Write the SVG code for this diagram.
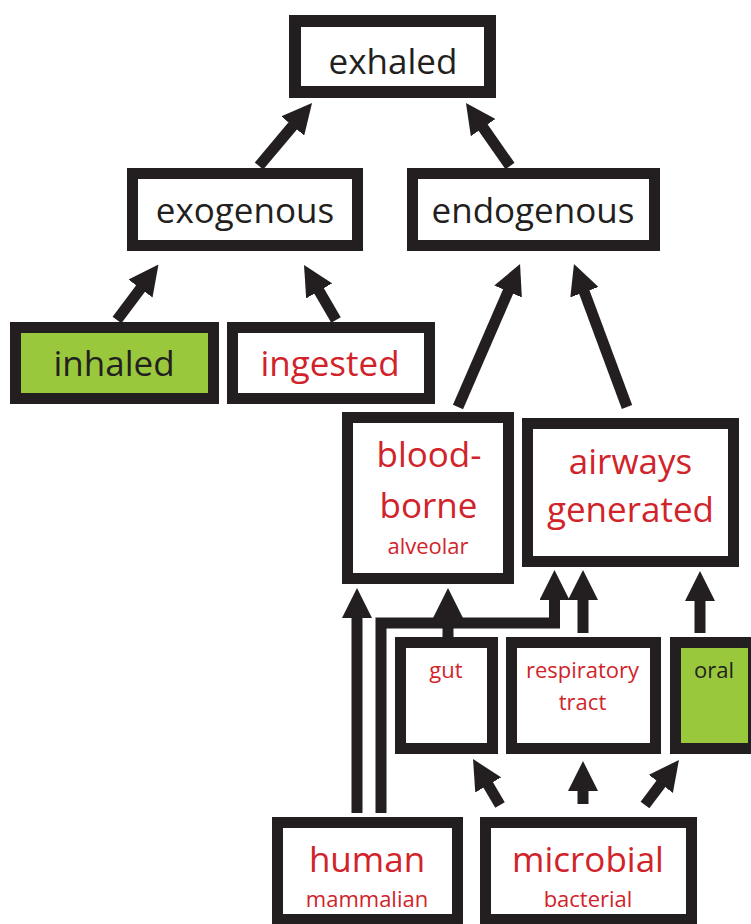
<svg xmlns="http://www.w3.org/2000/svg" width="751" height="924" viewBox="0 0 751 924">
<style>
.box{fill:#ffffff;stroke:#231f20;stroke-width:11}
.green{fill:#9ac83c}
.t{font-family:"Open Sans","Noto Sans",sans-serif;text-anchor:middle}
.big{font-size:35px}
.small{font-size:22px}
.dark{fill:#231f20}
.red{fill:#d1232a}
.c{fill:none;stroke:#231f20;stroke-width:11;stroke-linejoin:miter;marker-end:url(#ah)}
</style>
<defs>
<marker id="ah" markerUnits="userSpaceOnUse" viewBox="0 0 30 30" markerWidth="30" markerHeight="30" refX="2" refY="15" orient="auto">
<path d="M0,0 L30,15 L0,30 z" fill="#231f20"/>
</marker>
</defs>
<rect width="751" height="924" fill="#ffffff"/>
<g id="connectors">
<line class="c" x1="259" y1="166" x2="294" y2="124.4"/>
<line class="c" x1="510" y1="166" x2="482" y2="126"/>
<line class="c" x1="117" y1="320" x2="141.7" y2="287"/>
<line class="c" x1="336" y1="320" x2="318.1" y2="289.2"/>
<line class="c" x1="458" y1="407" x2="508.9" y2="289.7"/>
<line class="c" x1="627" y1="407" x2="583.7" y2="290.3"/>
<line class="c" x1="357" y1="813" x2="357" y2="616"/>
<path class="c" d="M381,813 V623 H554.5 V598"/>
<line class="c" x1="448" y1="637" x2="448" y2="616"/>
<line class="c" x1="583" y1="633" x2="583" y2="598"/>
<line class="c" x1="700" y1="633" x2="700" y2="599"/>
<line class="c" x1="500" y1="805" x2="487.2" y2="783.2"/>
<line class="c" x1="583" y1="804" x2="583" y2="789"/>
<line class="c" x1="645" y1="805" x2="662.1" y2="782.3"/>
</g>
<g id="exhaled">
<rect class="box" x="295" y="21" width="195" height="71" style="stroke-width:12"/>
<text class="t big dark" x="393" y="74">exhaled</text>
</g>
<g id="exogenous">
<rect class="box" x="132.5" y="173.5" width="225" height="72"/>
<text class="t big dark" x="245" y="223">exogenous</text>
</g>
<g id="endogenous">
<rect class="box" x="412.5" y="173.5" width="242" height="72"/>
<text class="t big dark" x="533" y="223">endogenous</text>
</g>
<g id="inhaled">
<rect class="box green" x="15.5" y="327.5" width="198" height="71"/>
<text class="t big dark" x="114" y="376">inhaled</text>
</g>
<g id="ingested">
<rect class="box" x="232.5" y="327.5" width="197" height="71"/>
<text class="t big red" x="330" y="376">ingested</text>
</g>
<g id="bloodborne">
<rect class="box" x="347.5" y="417.5" width="161" height="161"/>
<text class="t big red" x="429" y="467">blood-</text>
<text class="t big red" x="428.5" y="518">borne</text>
<text class="t small red" x="428" y="554">alveolar</text>
</g>
<g id="airways">
<rect class="box" x="527.5" y="423.5" width="206" height="138"/>
<text class="t big red" x="630.5" y="474">airways</text>
<text class="t big red" x="630.5" y="522">generated</text>
</g>
<g id="gut">
<rect class="box" x="400.5" y="642.5" width="92" height="106"/>
<text class="t small red" x="446" y="678">gut</text>
</g>
<g id="respiratory">
<rect class="box" x="511.5" y="642.5" width="144" height="106"/>
<text class="t small red" x="582.5" y="678">respiratory</text>
<text class="t small red" x="582.5" y="710">tract</text>
</g>
<g id="oral">
<rect class="box green" x="675.5" y="642.5" width="78" height="106"/>
<text class="t small dark" x="714" y="678">oral</text>
</g>
<g id="human">
<rect class="box" x="277.5" y="822.5" width="180" height="97"/>
<text class="t big red" x="367" y="872">human</text>
<text class="t small red" x="367" y="907">mammalian</text>
</g>
<g id="microbial">
<rect class="box" x="485.5" y="822.5" width="206" height="97"/>
<text class="t big red" x="588" y="872">microbial</text>
<text class="t small red" x="588" y="907">bacterial</text>
</g>
</svg>
